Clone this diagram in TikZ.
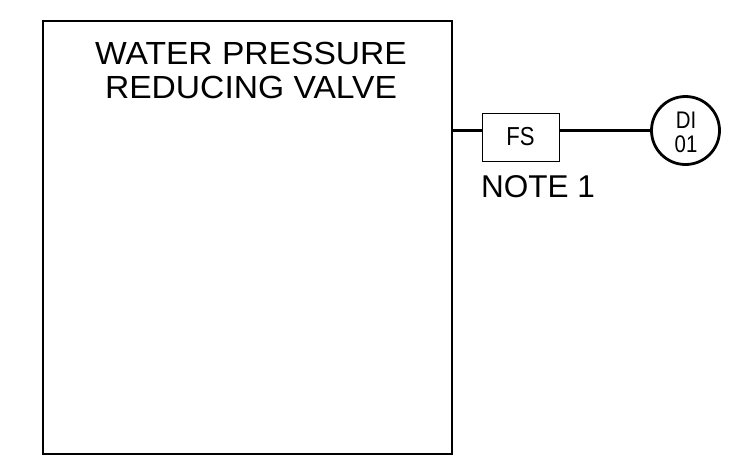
\documentclass[tikz,border=0pt]{standalone}
\usepackage{fontspec}
\setmainfont{Liberation Sans}
\newfontfamily\narrowfont[FakeStretch=0.85]{Liberation Sans}
\newfontfamily\widefont[FakeStretch=1.05]{Liberation Sans}
\usetikzlibrary{positioning}
\tikzset{
  panel/.style={draw, line width=2pt, rectangle, minimum width=409pt, minimum height=433pt, inner sep=0pt},
  sensor/.style={draw, line width=1pt, rectangle, minimum width=77pt, minimum height=48pt},
  instr/.style={draw, line width=2.8pt, circle, minimum size=68pt, inner sep=0pt},
  lbl/.style={anchor=base, inner sep=0pt, align=center},
  wire/.style={line width=3pt},
}

\begin{document}
\begin{tikzpicture}[x=1pt,y=-1pt]
\useasboundingbox (0,0) rectangle (753,467);
\node[panel] (prv) at (247.5,237.5) {};
% base anchor of a two-line label sits on its last line
\node[lbl, font=\widefont\fontsize{32}{34}\selectfont] (title) at (251,98) {WATER PRESSURE\\REDUCING VALVE};
\node[sensor] (fs) at (520.5,137) {};
\node[lbl, font=\narrowfont\fontsize{26}{26}\selectfont] (fslbl) at (520.5,145) {FS};
\node[instr] (di) at (685.5,130.5) {};
\node[lbl, font=\narrowfont\fontsize{24}{24}\selectfont] (dilbl) at (686,152) {DI\\01};
\node[lbl, anchor=base west, font=\fontsize{31.5}{31.5}\selectfont] (note) at (481,197) {NOTE 1};
\coordinate (tap) at (prv.east |- di.center);
\draw[wire] (tap) -- (fs.west |- di.center);
\draw[wire] (fs.east |- di.center) -- (di.west);
\end{tikzpicture}
\end{document}
